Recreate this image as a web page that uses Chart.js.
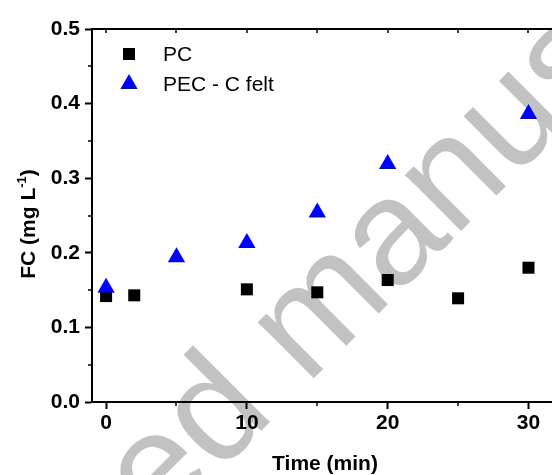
<!DOCTYPE html>
<html>
<head>
<meta charset="utf-8">
<script src="https://cdn.jsdelivr.net/npm/chart.js@4"></script>
<style>
  html, body { margin: 0; padding: 0; background: #fff; overflow: hidden; }
  canvas { display: block; background: #fff; }
</style>
</head>
<body>
<canvas id="fcChart" width="552" height="475"></canvas>
<script>
// FC concentration over time, PC vs PEC with carbon felt
const pcTime = [0, 2, 10, 15, 20, 25, 30];
const pcFC = [0.142, 0.143, 0.151, 0.147, 0.1635, 0.139, 0.180];
const pecTime = [0, 5, 10, 15, 20, 30];
const pecFC = [0.153, 0.194, 0.213, 0.254, 0.319, 0.386];

const xTicks = [0, 10, 20, 30];
const xMinorTicks = [5, 15, 25];
const topTicks = [0, 5, 10, 15, 20, 25, 30];
const yTicks = [0, 0.1, 0.2, 0.3, 0.4, 0.5];
const yMinorTicks = [0.05, 0.15, 0.25, 0.35, 0.45];

const FONT = '"Liberation Sans", Arial, sans-serif';

const toPoints = (xs, ys) => xs.map((x, i) => ({ x: x, y: ys[i] }));

// grey diagonal stamp behind everything
const stamp = {
    id: 'stamp',
    beforeDraw(chart) {
        const ctx = chart.ctx;
        ctx.save();
        ctx.translate(330, 362);
        ctx.rotate(-Math.PI / 4);
        ctx.fillStyle = '#c2c2c2';
        ctx.font = '150px ' + FONT;
        ctx.textAlign = 'center';
        ctx.textBaseline = 'alphabetic';
        ctx.fillText('Accepted manuscript', 0, 0);
        ctx.restore();
    }
};

// top frame line, minor ticks, axis titles, inset legend
const extras = {
    id: 'extras',
    afterDraw(chart) {
        const { ctx, chartArea: a, scales: { x, y } } = chart;
        ctx.save();
        ctx.strokeStyle = '#000';
        ctx.lineWidth = 2;
        ctx.beginPath();
        ctx.moveTo(a.left - 1, a.top);
        ctx.lineTo(a.right, a.top);
        ctx.stroke();

        ctx.lineWidth = 1.5;
        ctx.beginPath();
        topTicks.forEach(v => {
            const px = Math.round(x.getPixelForValue(v));
            ctx.moveTo(px, a.top);
            ctx.lineTo(px, a.top + 4);
        });
        xMinorTicks.forEach(v => {
            const px = Math.round(x.getPixelForValue(v));
            ctx.moveTo(px, a.bottom);
            ctx.lineTo(px, a.bottom + 4);
        });
        yMinorTicks.forEach(v => {
            const py = Math.round(y.getPixelForValue(v));
            ctx.moveTo(a.left, py);
            ctx.lineTo(a.left - 4, py);
        });
        ctx.stroke();

        ctx.fillStyle = '#000';

        // x axis title
        ctx.font = 'bold 21px ' + FONT;
        ctx.textAlign = 'center';
        ctx.textBaseline = 'alphabetic';
        ctx.fillText('Time (min)', 325, 470);

        // y axis title: FC (mg L^-1)
        ctx.save();
        ctx.translate(35, 224);
        ctx.rotate(-Math.PI / 2);
        ctx.textAlign = 'left';
        const big = 'bold 21px ' + FONT;
        const small = 'bold 13px ' + FONT;
        const parts = [['FC (mg L', big, 0], ['-1', small, -9], [')', big, 0]];
        let total = 0;
        parts.forEach(p => { ctx.font = p[1]; total += ctx.measureText(p[0]).width; });
        let cx = -total / 2;
        parts.forEach(p => {
            ctx.font = p[1];
            ctx.fillText(p[0], cx, p[2]);
            cx += ctx.measureText(p[0]).width;
        });
        ctx.restore();

        // legend
        const rows = [54, 84];
        ctx.textAlign = 'left';
        chart.data.datasets.forEach((ds, i) => {
            ctx.fillStyle = ds.backgroundColor;
            Chart.helpers.drawPoint(ctx, {
                pointStyle: ds.pointStyle,
                radius: ds.pointRadius,
                rotation: 0,
                borderWidth: 0
            }, 129, rows[i]);
            ctx.fillStyle = '#000';
            ctx.font = '21px ' + FONT;
            ctx.textBaseline = 'middle';
            ctx.fillText(ds.label, 163, rows[i] + 1);
        });
        ctx.restore();
    }
};

const tickFont = { family: FONT, size: 21, weight: 'bold' };

new Chart(document.getElementById('fcChart'), {
    type: 'scatter',
    data: {
        datasets: [
            {
                label: 'PC',
                data: toPoints(pcTime, pcFC),
                pointStyle: 'rect',
                pointRadius: 8.5,
                backgroundColor: '#000000',
                borderWidth: 0,
                order: 1
            },
            {
                label: 'PEC - C felt',
                data: toPoints(pecTime, pecFC),
                pointStyle: 'triangle',
                pointRadius: 10,
                backgroundColor: '#0000ff',
                borderWidth: 0,
                order: 0
            }
        ]
    },
    options: {
        responsive: false,
        animation: false,
        events: [],
        layout: { autoPadding: false, padding: { top: 29, right: 0, left: 0, bottom: 0 } },
        plugins: { legend: { display: false }, tooltip: { enabled: false } },
        scales: {
            x: {
                type: 'linear',
                min: -1,
                max: 31.67,
                afterBuildTicks: s => { s.ticks = xTicks.map(v => ({ value: v })); },
                afterFit: s => { s.height = 73; s.paddingLeft = 0; s.paddingRight = 0; },
                ticks: { color: '#000', font: tickFont, padding: 2, maxRotation: 0 },
                grid: { drawOnChartArea: false, tickLength: 7, tickWidth: 2, tickColor: '#000' },
                border: { color: '#000', width: 2 }
            },
            y: {
                min: 0,
                max: 0.5,
                afterBuildTicks: s => { s.ticks = yTicks.map(v => ({ value: v })); },
                afterFit: s => { s.width = 92; },
                ticks: { color: '#000', font: tickFont, padding: 5, callback: v => v.toFixed(1) },
                grid: { drawOnChartArea: false, tickLength: 7, tickWidth: 2, tickColor: '#000' },
                border: { color: '#000', width: 2 }
            }
        }
    },
    plugins: [stamp, extras]
});
</script>
</body>
</html>
